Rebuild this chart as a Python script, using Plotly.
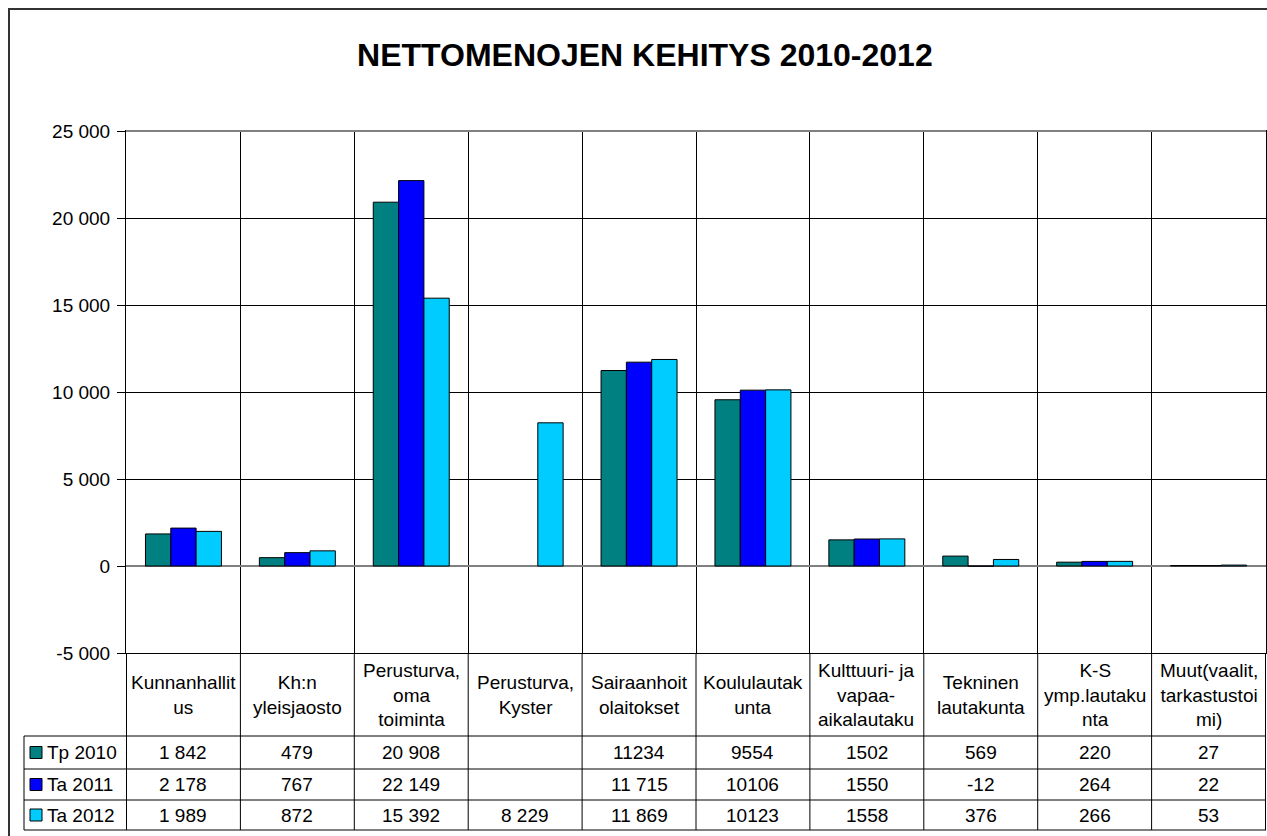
import plotly.graph_objects as go

W, H = 1267, 836

categories = ["Kunnanhallitus", "Kh:n yleisjaosto", "Perusturva, oma toiminta",
              "Perusturva, Kyster", "Sairaanhoitolaitokset", "Koululautakunta",
              "Kulttuuri- ja vapaa-aikalautaku", "Tekninen lautakunta",
              "K-S ymp.lautakunta", "Muut(vaalit, tarkastustoimi)"]

# category names as Excel wraps them in the data table header
category_labels = ["Kunnanhallit<br>us", "Kh:n<br>yleisjaosto", "Perusturva,<br>oma<br>toiminta",
                   "Perusturva,<br>Kyster", "Sairaanhoit<br>olaitokset", "Koululautak<br>unta",
                   "Kulttuuri- ja<br>vapaa-<br>aikalautaku", "Tekninen<br>lautakunta",
                   "K-S<br>ymp.lautaku<br>nta", "Muut(vaalit,<br>tarkastustoi<br>mi)"]

series_names = ["Tp 2010", "Ta 2011", "Ta 2012"]

tp_2010 = [1842, 479, 20908, None, 11234, 9554, 1502, 569, 220, 27]
ta_2011 = [2178, 767, 22149, None, 11715, 10106, 1550, -12, 264, 22]
ta_2012 = [1989, 872, 15392, 8229, 11869, 10123, 1558, 376, 266, 53]

# text shown in the data table (formatting differs per cell in the source)
tp_2010_text = ["1 842", "479", "20 908", "", "11234", "9554", "1502", "569", "220", "27"]
ta_2011_text = ["2 178", "767", "22 149", "", "11 715", "10106", "1550", "-12", "264", "22"]
ta_2012_text = ["1 989", "872", "15 392", "8 229", "11 869", "10123", "1558", "376", "266", "53"]

y_ticks = [-5000, 0, 5000, 10000, 15000, 20000, 25000]
y_tick_labels = ["-5 000", "0", "5 000", "10 000", "15 000", "20 000", "25 000"]

COLOURS = {"teal": "#008080", "blue": "#0000FF", "cyan": "#00CCFF"}
series_colours = [COLOURS["teal"], COLOURS["blue"], COLOURS["cyan"]]

FONT = "Liberation Sans, Arial, sans-serif"
FS = 19

# pixel layout of the Excel chart
PLOT_L, PLOT_R, PLOT_T, PLOT_B = 126, 1266, 131, 653
TABLE_L = 24
ROW_LINES = [736, 769, 800, 830]


def px(x):
    return x / W


def py(y):
    return 1 - y / H


fig = go.Figure()
for name, vals, col in zip(series_names, [tp_2010, ta_2011, ta_2012], series_colours):
    fig.add_trace(go.Bar(name=name, x=categories, y=vals,
                         marker=dict(color=col, line=dict(color="black", width=1))))

fig.update_layout(
    width=W, height=H, margin=dict(l=0, r=0, t=0, b=0, pad=0),
    paper_bgcolor="white", plot_bgcolor="white",
    barmode="group", bargap=0.333, bargroupgap=0,
    showlegend=False,
    font=dict(family=FONT, size=FS, color="black"),
    title=dict(text="<b>NETTOMENOJEN KEHITYS 2010-2012</b>", x=0.509, xanchor="center",
               y=py(55), yanchor="middle", font=dict(size=32, family=FONT, color="black")),
)

fig.update_xaxes(domain=[px(PLOT_L), px(PLOT_R)], type="category", tickson="boundaries",
                 showgrid=True, gridcolor="black", gridwidth=1, showticklabels=False,
                 ticks="", showline=True, linecolor="black", mirror=True, automargin=False)
fig.update_yaxes(domain=[py(PLOT_B), py(PLOT_T)], range=[-5000, 25000],
                 tickvals=y_ticks, ticktext=y_tick_labels,
                 showgrid=True, gridcolor="black", gridwidth=1,
                 ticks="outside", ticklen=8, tickcolor="black", ticklabelstandoff=3,
                 showline=True, linecolor="black", mirror=True,
                 zeroline=True, zerolinecolor="#808080", zerolinewidth=2,
                 tickfont=dict(size=FS), automargin=False)

shapes = []
# chart area border
shapes.append(dict(type="rect", xref="paper", yref="paper", x0=px(9), x1=px(W + 10),
                   y0=py(H + 10), y1=py(9), line=dict(color="#333333", width=2)))
# top edge of the plot area is grey in Excel
shapes.append(dict(type="line", xref="paper", yref="paper", x0=px(PLOT_L), x1=px(PLOT_R),
                   y0=py(PLOT_T), y1=py(PLOT_T), line=dict(color="#808080", width=2)))
# data table: column lines
for i in range(len(categories) + 1):
    shapes.append(dict(type="line", xref="x", yref="paper", x0=i - 0.5, x1=i - 0.5,
                       y0=py(PLOT_B), y1=py(ROW_LINES[-1]),
                       line=dict(color="black", width=1)))
# data table: row lines
for y in ROW_LINES:
    shapes.append(dict(type="line", xref="paper", yref="paper", x0=px(TABLE_L), x1=px(PLOT_R),
                       y0=py(y), y1=py(y), line=dict(color="black", width=1)))
shapes.append(dict(type="line", xref="paper", yref="paper", x0=px(TABLE_L), x1=px(TABLE_L),
                   y0=py(ROW_LINES[0]), y1=py(ROW_LINES[-1]), line=dict(color="black", width=1)))

annotations = []
for cat, lab in zip(categories, category_labels):
    annotations.append(dict(x=cat, xref="x", y=py((PLOT_B + ROW_LINES[0]) / 2), yref="paper",
                            text=lab, showarrow=False, xanchor="center", yanchor="middle",
                            font=dict(size=FS)))

for r, (name, texts, col) in enumerate(zip(series_names,
                                           [tp_2010_text, ta_2011_text, ta_2012_text],
                                           series_colours)):
    yc = (ROW_LINES[r] + ROW_LINES[r + 1]) / 2
    # legend key
    shapes.append(dict(type="rect", xref="paper", yref="paper", x0=px(30), x1=px(42),
                       y0=py(yc + 6), y1=py(yc - 6), fillcolor=col,
                       line=dict(color="black", width=1)))
    annotations.append(dict(x=px(45), xref="paper", y=py(yc), yref="paper", text=name,
                            showarrow=False, xanchor="left", yanchor="middle",
                            font=dict(size=FS)))
    for cat, t in zip(categories, texts):
        if t:
            annotations.append(dict(x=cat, xref="x", y=py(yc), yref="paper", text=t,
                                    showarrow=False, xanchor="center", yanchor="middle",
                                    font=dict(size=FS)))

fig.update_layout(shapes=shapes, annotations=annotations)

fig.write_html("out.html", config={"displayModeBar": False},
               post_script="document.body.style.margin='0';document.body.style.overflow='hidden';")
